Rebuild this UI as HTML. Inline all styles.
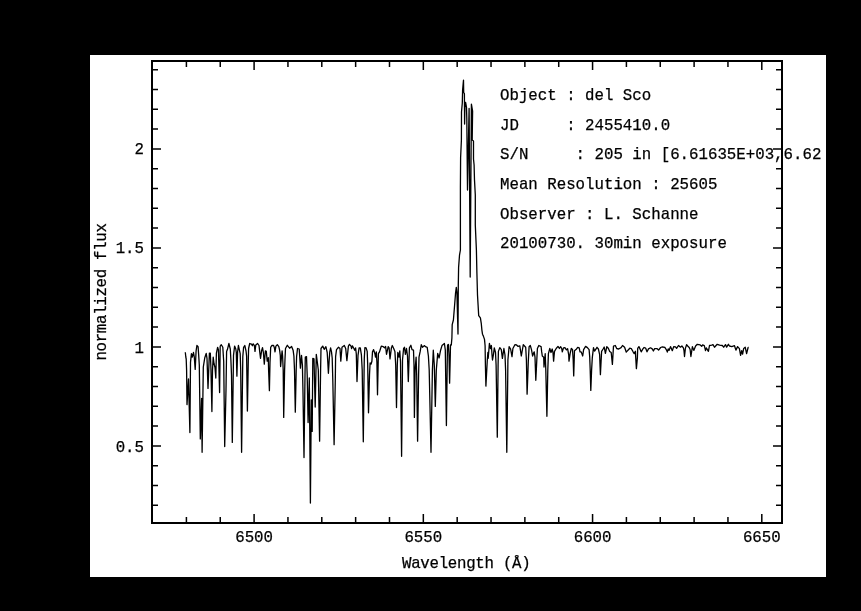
<!DOCTYPE html>
<html><head><meta charset="utf-8"><style>
html,body{margin:0;padding:0;background:#000;width:861px;height:611px;overflow:hidden}
#w{position:absolute;left:90px;top:55px;width:736px;height:522px;background:#fff;overflow:hidden}
svg{position:absolute;left:0;top:0;filter:grayscale(100%)}
.t{position:absolute;font-family:"Liberation Mono",monospace;font-size:15.75px;line-height:1;color:#000;white-space:pre;margin:0}
</style></head><body>
<div id="w">
<svg width="736" height="522" viewBox="90 55 736 522">
<rect x="152" y="61" width="630" height="462" fill="none" stroke="#000" stroke-width="2"/>
<path d="M186.41 522V517.0M186.41 62V67.0M220.25 522V517.0M220.25 62V67.0M254.10 522V514.0M254.10 62V70.0M287.95 522V517.0M287.95 62V67.0M321.79 522V517.0M321.79 62V67.0M355.64 522V517.0M355.64 62V67.0M389.49 522V517.0M389.49 62V67.0M423.33 522V514.0M423.33 62V70.0M457.18 522V517.0M457.18 62V67.0M491.03 522V517.0M491.03 62V67.0M524.87 522V517.0M524.87 62V67.0M558.72 522V517.0M558.72 62V67.0M592.57 522V514.0M592.57 62V70.0M626.41 522V517.0M626.41 62V67.0M660.26 522V517.0M660.26 62V67.0M694.11 522V517.0M694.11 62V67.0M727.95 522V517.0M727.95 62V67.0M761.80 522V514.0M761.80 62V70.0M153 505.30H158M781 505.30H776M153 485.50H158M781 485.50H776M153 465.70H158M781 465.70H776M153 445.90H161M781 445.90H773M153 426.10H158M781 426.10H776M153 406.30H158M781 406.30H776M153 386.50H158M781 386.50H776M153 366.70H158M781 366.70H776M153 346.90H161M781 346.90H773M153 327.10H158M781 327.10H776M153 307.30H158M781 307.30H776M153 287.50H158M781 287.50H776M153 267.70H158M781 267.70H776M153 247.90H161M781 247.90H773M153 228.10H158M781 228.10H776M153 208.30H158M781 208.30H776M153 188.50H158M781 188.50H776M153 168.70H158M781 168.70H776M153 148.90H161M781 148.90H773M153 129.10H158M781 129.10H776M153 109.30H158M781 109.30H776M153 89.50H158M781 89.50H776M153 69.70H158M781 69.70H776" stroke="#000" stroke-width="1.5" fill="none"/>
<path d="M185.3 352.2 L185.8 357 L186.2 359 L186.6 370 L187 404.6 L188.5 379 L189.9 432.5 L190.5 362.4 L191.4 353.7 L192.3 357.2 L193.5 352.5 L194.3 357.2 L195.2 369.4 L196.1 350.8 L196.9 345.5 L198.1 346.7 L198.7 355.4 L199.3 365 L200.3 438.9 L201.6 398.5 L202.1 452.3 L203.3 367 L204.8 357.7 L206.2 353.4 L207 358.3 L208 388.4 L209.4 353.1 L210.3 353.1 L210.9 367 L211.9 411.6 L212.5 370 L213.2 357.2 L214 363.5 L215 367.6 L215.8 378 L216.4 353.1 L217.6 347.3 L218.4 349.6 L219.6 392.6 L220.2 346.1 L221.3 344.7 L222.8 347.3 L223.7 361.2 L224.7 446.5 L226 390 L226.6 351.4 L227.4 349.6 L228.9 343.5 L230.3 349 L230.9 360 L231.5 375 L232.3 442.4 L233.5 355.4 L234.6 346.1 L235.8 349 L236.3 352.5 L236.9 376.2 L237.6 352 L238.4 345.5 L239.3 349.6 L240.2 353.7 L240.7 370 L241.6 452.3 L242.8 356.6 L243.6 347.3 L244.8 345.5 L246 350.8 L246.6 356 L247.4 411 L248.3 360 L248.6 348.5 L249.7 343.5 L251.5 344.1 L252.4 345.8 L253.2 343.8 L254.4 345.5 L255 351.4 L255.8 345 L257.6 343.5 L259 345.5 L259.9 353.1 L260.5 358.3 L261.6 350.8 L262.5 347.6 L263.4 352.5 L264.3 364.1 L265.4 350.8 L266.3 351.4 L267.2 361.2 L268.3 357.7 L268.6 370 L269.4 390.7 L270 362.4 L270.7 347.3 L271.8 345.5 L273.6 345.5 L274.4 347.9 L275 351.9 L275.9 346.1 L277.3 344.7 L278.8 346.7 L279.6 350 L280.3 355.4 L280.6 366.5 L282.1 350.8 L282.6 356 L283.2 370 L283.7 417.4 L284.6 370 L285 358.9 L285.5 348.5 L287.3 345.3 L289.6 348.2 L291.6 346.4 L293.1 350.2 L293.9 356 L294.5 370 L295.3 412.2 L296.2 370 L296.6 356.6 L297.5 348.5 L299.2 349 L299.8 357.7 L300.4 368.2 L301.5 355.4 L302.4 365 L303 393 L304 457.5 L305 375 L305.3 357.2 L306.5 356.6 L307.2 375 L308.1 422.6 L309.3 378 L310.4 503 L311.3 400 L312.2 431.4 L312.8 358.3 L314 358.9 L314.5 380 L315.2 407 L316.3 354.3 L317.3 362 L318.3 370 L319.6 441.2 L320.6 370 L321 348.5 L322.7 346.1 L324.2 349.3 L325.9 346.7 L327.2 352.5 L327.8 362 L328.4 373.3 L329.2 360 L329.8 351.9 L330.6 347.9 L331.5 351.9 L332.2 358 L332.8 380 L334.1 444.7 L335.3 380 L335.6 356.6 L336.5 349.6 L338.5 347.3 L340 348.5 L340.8 361.2 L342 347.3 L344.3 345.5 L345.7 348.5 L346.9 360.6 L348.4 346.1 L349.5 344.4 L351 346.1 L351.6 348.5 L352.4 345.8 L353.9 348.5 L354.7 350.2 L355.6 347.9 L356.3 354 L357 381.5 L358 355.4 L359.1 347.9 L360.3 347.9 L361.4 354.8 L362.2 370 L363.3 441.8 L364.1 370 L364.3 358.3 L364.9 347.6 L366.1 347.9 L367.2 351.4 L367.7 365 L368.5 412.8 L369.5 375 L370.1 363 L371.1 364 L371.9 361.2 L372.5 351.9 L373.6 349.6 L374.9 353.7 L375.5 357.2 L376.3 351.9 L376.9 362 L377.5 394.8 L378.2 362 L378.4 353.7 L379.5 351.9 L380.4 349 L381.3 346.1 L383.3 346.7 L384.5 347.9 L385.6 346.4 L386.5 354.3 L388.2 346.7 L389.1 347.9 L390 358.9 L391.4 347.9 L392.3 345.5 L393.7 348.5 L394.9 351.4 L395.7 365 L396.5 407.5 L397.3 365 L397.8 352.5 L399 357.2 L399.8 350.8 L400.5 362 L401.6 456.3 L402.4 375 L402.5 360 L403.6 348.5 L404.5 347.3 L405.4 354.3 L406.5 348.5 L407.5 356 L408.3 381.5 L409.1 358 L409.4 347.9 L410.9 345.3 L412 349.6 L413.5 350.2 L414 365 L414.4 417.4 L415.1 370 L416.1 357.2 L416.7 375 L417.6 441.2 L418.6 375 L419 357.2 L420.2 351.4 L421.3 344.7 L422.5 347.3 L424.3 345.6 L425.5 346.7 L427.2 347.3 L428.4 356 L429.2 370 L431 452.3 L432.4 370 L433.3 350.2 L434.3 365 L435.3 406.4 L436.3 370 L437.7 353.4 L439.1 358 L440.6 350.2 L442 345.6 L444.4 343.5 L445.3 350 L446.4 425.6 L447.4 350 L447.6 345 L448.4 344.4 L449 355 L449.6 383.2 L450.3 355 L450.5 345 L451.3 345 L451.9 338 L452.2 324.6 L453.4 320 L454.6 305.3 L455.5 293.7 L456.3 287.3 L456.9 292 L458 334 L458.3 285 L458.6 267.4 L459.5 255.2 L460.4 250 L460.4 187 L460.6 158 L461.4 140 L461.5 112 L462.3 103 L462.6 90 L463.5 80.1 L463.7 92.7 L464.4 93.6 L464.6 124 L465 102.4 L465.6 102.4 L466.5 107.4 L466.8 118.6 L467.5 190 L469.1 108.4 L470.2 277 L471.4 104.2 L472.6 111.2 L472.2 140 L473.5 141 L473.5 159 L474.1 165 L474.5 180 L475.3 195 L475.3 225 L476.4 250 L476.9 273 L477.5 295 L478.1 305.3 L478.7 315.6 L480.4 317.9 L481.3 323.7 L481.9 330.1 L482.5 334.2 L483.3 335.9 L484.5 339.4 L485.1 345.8 L485.4 365 L485.9 386.1 L487.3 360 L487.9 352.5 L488.2 358.3 L489.4 343.5 L490.5 348.5 L491.4 345.5 L492 354.8 L492.5 360 L493.4 354.8 L494.3 347.9 L495.5 352.5 L496.1 365 L497.3 437.2 L498.1 365 L498.4 351.4 L499.8 347.6 L501.3 349.6 L502.4 358.3 L503.9 348.5 L505 355 L505.6 370 L506.8 452.3 L507.7 380 L507.9 360 L509.1 346.7 L510.6 349 L512 356.6 L512.9 348.5 L514.9 344.7 L516.6 345 L518.1 346.4 L519.8 345.8 L521.3 356 L523.3 344.7 L525.7 347.3 L526.4 360 L527.1 394.2 L528 370 L528.3 361.2 L529.1 346.7 L530.3 345.5 L531.5 349.6 L532.6 356 L533.8 352.5 L534.2 351.9 L535 357.2 L535.8 380.3 L536.8 360 L537.4 348.5 L538.8 345.5 L541.1 346.7 L541.7 351.9 L542.3 356 L543.7 357.2 L544 367 L545.2 353.7 L545.8 370 L546.9 416.3 L547.8 370 L548.4 353.7 L549.8 348.5 L551 352.5 L552.2 349 L553 352.5 L553.6 361.2 L554.5 351.4 L556.2 348.5 L558 346.4 L559.4 348.5 L560.6 346.7 L561.7 348.5 L562.3 351.9 L563.5 347.9 L564.9 347.6 L566.4 349.9 L567.6 348.7 L568.7 354.8 L569 361.2 L570.2 353.1 L571.3 348.5 L572.5 349.6 L573.2 360 L573.7 375.9 L574.2 360 L574.5 350.8 L576 349.6 L577.7 347.3 L579.2 347.9 L580 351.9 L581.2 351.9 L582.7 356 L583.6 349.6 L585.6 346.4 L587.4 347.6 L589.1 349.6 L589.7 356.6 L590.2 370 L590.8 390.4 L591.6 370 L592.3 357.7 L593.5 347.6 L594.6 351.1 L597 347.3 L598.4 349 L599.6 354.3 L600.4 374.7 L601.6 351.4 L603.1 349 L604.2 347 L605.4 353.4 L606.8 346.7 L608.3 348.2 L609.7 351.4 L611.2 352.5 L612.4 364.4 L613.5 346.1 L615.3 345.5 L616.7 348.5 L618.7 349 L621.1 347.6 L622.5 345.5 L624.6 347.3 L626.3 352.2 L628 350.2 L629.8 348.2 L631.3 348.6 L633.1 351.8 L634.2 353.6 L635.4 351.3 L635.7 357.1 L636.4 368.7 L637.4 357.6 L637.7 348.4 L638.9 346.6 L640 348.9 L641.2 351.8 L642.9 348.9 L644.1 347.5 L645.6 348.1 L647 351.8 L648.5 348.9 L650.5 347.8 L652.2 348.9 L653.4 351 L654.6 348.6 L656.9 348.6 L658.6 350.1 L660.6 347.5 L662.4 346.9 L665 347.5 L666.7 350.4 L667.3 352.1 L668.2 348.9 L669.1 350.4 L670.5 346.6 L672.3 350.7 L673.7 346.6 L675.5 346.9 L676.6 348.4 L678.5 345.5 L680.5 347.2 L681.9 346 L683.4 347.8 L684 350.7 L684.5 356.5 L685.4 348.4 L686.6 344.6 L687.7 346 L689.2 347.5 L690.1 349.5 L690.9 356.5 L692.4 346.6 L693.8 350.4 L695.6 346 L697.3 344.3 L700.2 344.9 L701.7 346.3 L702.6 344.9 L704.3 345.7 L705.5 350.7 L706.3 347.8 L708.4 351.3 L709.5 345.5 L711.8 345.2 L713 344.6 L714.5 347.2 L717.2 344.3 L719.6 345.2 L722.3 345.5 L723.7 347.2 L725.5 344.6 L726.6 347.2 L728.4 344.3 L729.5 346 L731.8 346.6 L734.5 345.7 L735.9 350.1 L737.6 346.6 L739.4 348.6 L740.6 355.3 L741.7 350.7 L742.6 354.2 L743.7 348.4 L745.2 347.2 L746.6 353.6 L748.1 347.5 L748.7 347.5" stroke="#000" stroke-width="1.3" fill="none" stroke-linejoin="round"/>
<g font-family="Liberation Mono" font-size="15.75" fill="#000" stroke="#000" stroke-width="0.25" style="white-space:pre" xml:space="preserve">
<text x="500" y="99.7">Object : del Sco</text>
<text x="500" y="129.8">JD&#160;&#160;&#160;&#160;&#160;: 2455410.0</text>
<text x="500" y="158.8">S/N&#160;&#160;&#160;&#160;&#160;: 205 in [6.61635E+03,6.62</text>
<text x="500" y="188.8">Mean Resolution : 25605</text>
<text x="500" y="218.7">Observer : L. Schanne</text>
<text x="500" y="247.9">20100730. 30min exposure</text>
<text x="144" y="451.5" text-anchor="end">0.5</text>
<text x="144" y="352.5" text-anchor="end">1</text>
<text x="144" y="253.3" text-anchor="end">1.5</text>
<text x="144" y="154.4" text-anchor="end">2</text>
<text x="254.1" y="542" text-anchor="middle">6500</text>
<text x="423.3" y="542" text-anchor="middle">6550</text>
<text x="592.6" y="542" text-anchor="middle">6600</text>
<text x="761.8" y="542" text-anchor="middle">6650</text>
<text x="402" y="568" letter-spacing="-0.28">Wavelength (Å)</text>
<text transform="translate(106 360.6) rotate(-90)" letter-spacing="-0.3">normalized flux</text>
</g>
</svg>
</div>
</body></html>
